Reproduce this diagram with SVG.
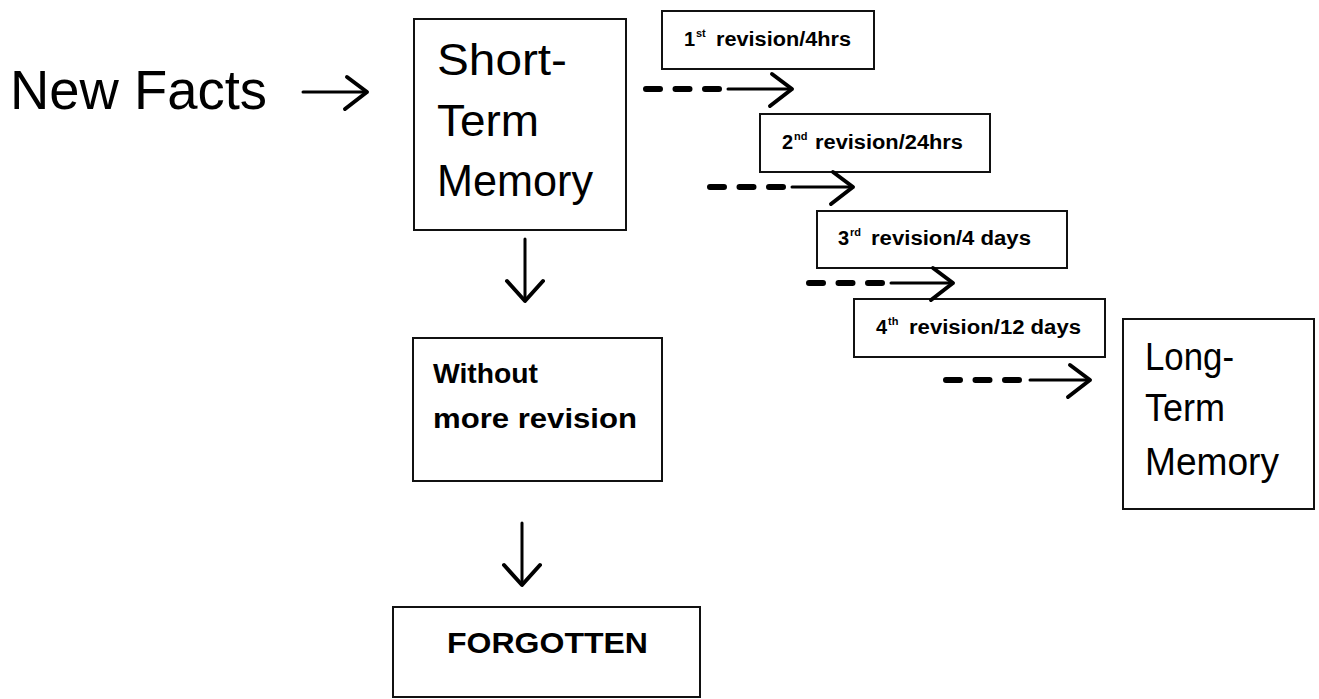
<svg xmlns="http://www.w3.org/2000/svg" xmlns:xlink="http://www.w3.org/1999/xlink" width="1319" height="699" viewBox="0 0 1319 699">
<style>
  .box { fill: #ffffff; stroke: #111111; stroke-width: 2; }
  .big { font-family: "Liberation Sans", Arial, sans-serif; fill: #000000; }
  .bold { font-family: "Liberation Sans", Arial, sans-serif; font-weight: bold; fill: #000000; }
  .dash { stroke: #000000; stroke-width: 6; stroke-linecap: round; stroke-dasharray: 14 15.5; fill: none; }
  .line { stroke: #000000; stroke-width: 3; fill: none; stroke-linecap: round; }
  .head { stroke: #000000; stroke-width: 4; fill: none; stroke-linecap: round; stroke-linejoin: round; }
</style>
<defs>
  <path id="chev" d="M-20,-15 L0,0 L-22,17"/>
  <path id="chevDown" d="M-18,-20 L0,0 L18,-20"/>
</defs>
<rect width="1319" height="699" fill="#ffffff"/>

<g id="new-facts">
  <text class="big" x="10" y="109" font-size="55" textLength="257" lengthAdjust="spacingAndGlyphs">New Facts</text>
</g>

<g id="short-term-memory">
  <rect class="box" x="414" y="19" width="212" height="211"/>
  <text class="big" font-size="44" x="437" y="75" textLength="130" lengthAdjust="spacingAndGlyphs">Short-</text>
  <text class="big" font-size="44" x="437" y="136" textLength="102" lengthAdjust="spacingAndGlyphs">Term</text>
  <text class="big" font-size="44" x="437" y="196" textLength="156" lengthAdjust="spacingAndGlyphs">Memory</text>
</g>

<g id="without-more-revision">
  <rect class="box" x="413" y="338" width="249" height="143"/>
  <text class="bold" font-size="27" x="433" y="383" textLength="105" lengthAdjust="spacingAndGlyphs">Without</text>
  <text class="bold" font-size="27" x="433" y="428" textLength="204" lengthAdjust="spacingAndGlyphs">more revision</text>
</g>

<g id="forgotten">
  <rect class="box" x="393" y="607" width="307" height="90"/>
  <text class="bold" font-size="30" x="447" y="653" textLength="201" lengthAdjust="spacingAndGlyphs">FORGOTTEN</text>
</g>

<g id="revision-1">
  <rect class="box" x="662" y="11" width="212" height="58"/>
  <text class="bold" font-size="20" x="684" y="46">1</text>
  <text class="bold" font-size="11" x="696" y="37">st</text>
  <text class="bold" font-size="20" x="716" y="46" textLength="135" lengthAdjust="spacingAndGlyphs">revision/4hrs</text>
</g>

<g id="revision-2">
  <rect class="box" x="760" y="114" width="230" height="58"/>
  <text class="bold" font-size="20" x="782" y="149">2</text>
  <text class="bold" font-size="11" x="794" y="140">nd</text>
  <text class="bold" font-size="20" x="815" y="149" textLength="148" lengthAdjust="spacingAndGlyphs">revision/24hrs</text>
</g>

<g id="revision-3">
  <rect class="box" x="817" y="211" width="250" height="57"/>
  <text class="bold" font-size="20" x="838" y="245">3</text>
  <text class="bold" font-size="11" x="850" y="236">rd</text>
  <text class="bold" font-size="20" x="871" y="245" textLength="160" lengthAdjust="spacingAndGlyphs">revision/4 days</text>
</g>

<g id="revision-4">
  <rect class="box" x="854" y="299" width="251" height="58"/>
  <text class="bold" font-size="20" x="876" y="334">4</text>
  <text class="bold" font-size="11" x="888" y="325">th</text>
  <text class="bold" font-size="20" x="909" y="334" textLength="172" lengthAdjust="spacingAndGlyphs">revision/12 days</text>
</g>

<g id="long-term-memory">
  <rect class="box" x="1123" y="319" width="191" height="190"/>
  <text class="big" font-size="38" x="1145" y="370" textLength="89" lengthAdjust="spacingAndGlyphs">Long-</text>
  <text class="big" font-size="38" x="1145" y="421" textLength="80" lengthAdjust="spacingAndGlyphs">Term</text>
  <text class="big" font-size="38" x="1145" y="475" textLength="134" lengthAdjust="spacingAndGlyphs">Memory</text>
</g>

<g id="connectors">
  <line class="line" x1="303" y1="92" x2="366" y2="92"/>
  <use href="#chev" class="head" transform="translate(367,92)"/>

  <line class="line" x1="525" y1="239" x2="525" y2="300"/>
  <use href="#chevDown" class="head" transform="translate(525,301)"/>

  <line class="line" x1="522" y1="523" x2="522" y2="584"/>
  <use href="#chevDown" class="head" transform="translate(522,585)"/>

  <path class="dash" d="M646,89 H719"/>
  <line class="line" x1="728" y1="89" x2="791" y2="89"/>
  <use href="#chev" class="head" transform="translate(792,89)"/>

  <path class="dash" d="M710,187 H783"/>
  <line class="line" x1="792" y1="187" x2="852" y2="187"/>
  <use href="#chev" class="head" transform="translate(853,187)"/>

  <path class="dash" d="M809,283 H882"/>
  <line class="line" x1="891" y1="283" x2="952" y2="283"/>
  <use href="#chev" class="head" transform="translate(953,283)"/>

  <path class="dash" d="M946,380 H1019"/>
  <line class="line" x1="1030" y1="380" x2="1089" y2="380"/>
  <use href="#chev" class="head" transform="translate(1090,380)"/>
</g>
</svg>
